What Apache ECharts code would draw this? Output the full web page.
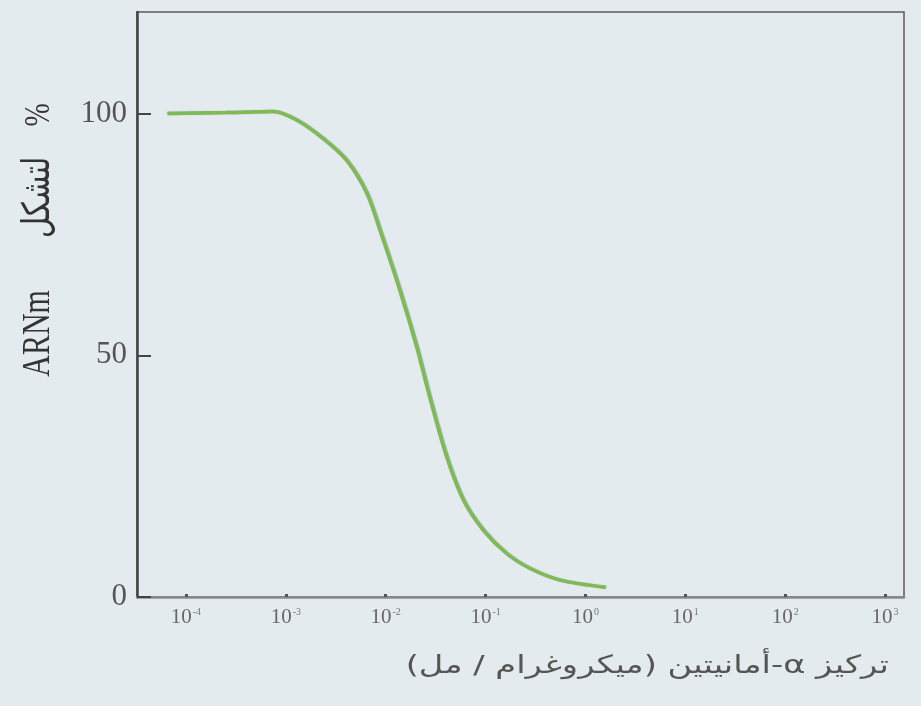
<!DOCTYPE html>
<html>
<head>
<meta charset="utf-8">
<script src="https://cdn.jsdelivr.net/npm/echarts@6/dist/echarts.min.js"></script>
<style>
html,body{margin:0;padding:0;background:#e4ebee;}
#chart{width:921px;height:706px;}
</style>
</head>
<body>
<div id="chart"></div>
<script>
// concentration of alpha-amanitin (µg/ml)
const concentrations = [6.5e-5, 2.5e-4, 7.4e-4, 1.29e-3, 2.36e-3, 4.06e-3, 6.46e-3, 8.77e-3, 1.38e-2, 2.04e-2, 2.75e-2, 4.07e-2, 6.0e-2, 9.5e-2, 0.162, 0.279, 0.556, 1.58];
// % mRNA synthesis
const mrnaPercent = [100, 100.2, 100.4, 98.6, 94.8, 90.3, 83.5, 75.8, 63.5, 51.7, 41.4, 29, 20, 13.8, 9, 5.9, 3.5, 2];
const yTickLabels = [0, 50, 100];
const xExponents = [-4, -3, -2, -1, 0, 1, 2, 3];
const yTitleParts = ['ARNm', 'لتشكل', '%'];
const xTitle = '\u202Bتركيز α-أمانيتين (ميكروغرام / مل)\u202C';

const chart = echarts.init(document.getElementById('chart'), null, {renderer: 'canvas'});
const serif = '"Liberation Serif","DejaVu Serif",serif';

chart.setOption({
  backgroundColor: '#e4ebee',
  animation: false,
  grid: {left: 137, right: 17, top: 12, bottom: 109, show: true, borderColor: '#5a5a5a', borderWidth: 1.5, backgroundColor: 'transparent'},
  xAxis: {
    type: 'log',
    logBase: 10,
    min: Math.pow(10, -4.49),
    max: Math.pow(10, 3.19),
    axisLine: {lineStyle: {color: '#8a8a8a', width: 2.5}},
    axisTick: {show: true, inside: true, length: 3, lineStyle: {color: '#555', width: 3}},
    splitLine: {show: false},
    axisLabel: {
      showMinLabel: false, showMaxLabel: false,
      margin: 10,
      formatter: function (v) {
        const e = Math.round(Math.log10(v));
        if (Math.abs(Math.log10(v) - e) > 1e-6 || xExponents.indexOf(e) < 0) return '';
        return '{b|10}{s|' + (e < 0 ? '-' + (-e) : e) + '}';
      },
      rich: {
        b: {fontFamily: serif, fontSize: 21, color: '#666'},
        s: {fontFamily: serif, fontSize: 10, color: '#777', verticalAlign: 'top', padding: [0, 0, 10, 1]}
      }
    }
  },
  yAxis: {
    type: 'value',
    min: 0,
    max: 121,
    interval: 50,
    axisLine: {show: true, lineStyle: {color: '#454545', width: 2.5}},
    axisTick: {show: true, inside: true, length: 14, lineStyle: {color: '#444', width: 2}},
    splitLine: {show: false},
    axisLabel: {
      margin: 10,
      fontFamily: serif, fontSize: 31, color: '#555',
      showMaxLabel: false,
      formatter: function (v) { return yTickLabels.indexOf(v) >= 0 ? String(v) : ''; }
    }
  },
  graphic: [
    {type: 'text', x: 39, y: 240, rotation: Math.PI / 2, scaleY: 1.3,
     style: {
       text: '{a|' + yTitleParts[0] + '}{b|' + yTitleParts[1] + '}{c|' + yTitleParts[2] + '}',
       align: 'center', verticalAlign: 'middle',
       rich: {
         a: {fontFamily: serif, fontSize: 30, fill: '#333'},
         b: {fontFamily: '"DejaVu Sans",sans-serif', fontSize: 29, fill: '#333', padding: [0, 30, 0, 52]},
         c: {fontFamily: serif, fontSize: 28, fill: '#333'}
       }
     }},
    {type: 'text', x: 889, y: 666, scaleX: 1.35,
     style: {text: xTitle, fontFamily: '"DejaVu Sans",sans-serif', fontSize: 25, fill: '#555', align: 'right', verticalAlign: 'middle'}}
  ],
  series: [{
    type: 'line',
    data: concentrations.map((c, i) => [c, mrnaPercent[i]]),
    smooth: 0.3,
    showSymbol: false,
    lineStyle: {color: '#7fbb52', width: 3.5, shadowColor: 'rgba(60,110,90,0.5)', shadowBlur: 1, shadowOffsetX: 1}
  }]
});
</script>
</body>
</html>
